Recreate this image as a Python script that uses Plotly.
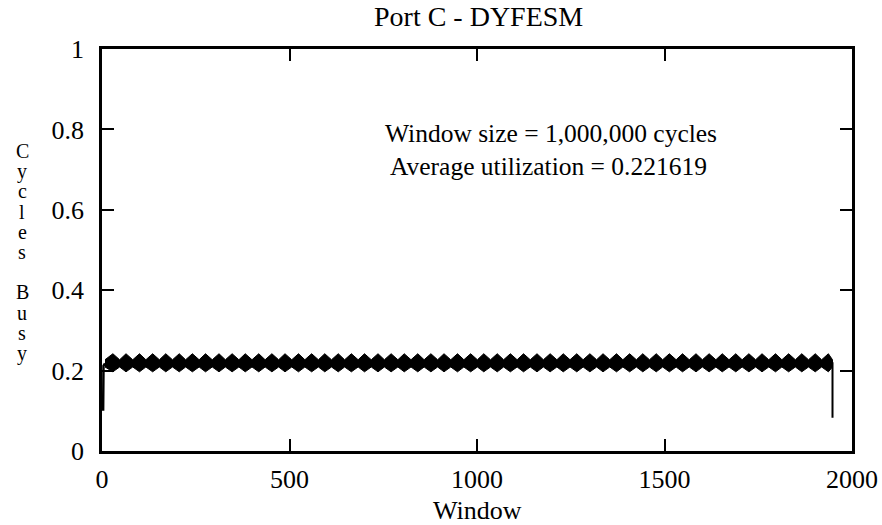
import plotly.graph_objects as go

# ---- data ----
# Envelope of the rapidly oscillating utilisation trace: alternating neck / peak windows
env_windows = [8, 29, 47, 64, 82, 100, 117, 135, 153, 170, 188, 206, 223, 241, 259, 276, 294, 312,
               329, 347, 365, 382, 400, 418, 435, 453, 471, 488, 506, 524, 541, 559, 577, 594,
               612, 630, 647, 665, 683, 700, 718, 736, 753, 771, 789, 806, 824, 842, 859, 877,
               895, 912, 930, 948, 965, 983, 1001, 1018, 1036, 1054, 1071, 1089, 1107, 1124,
               1142, 1160, 1177, 1195, 1213, 1230, 1248, 1266, 1283, 1301, 1319, 1336, 1354,
               1372, 1389, 1407, 1425, 1442, 1460, 1478, 1495, 1513, 1531, 1548, 1566, 1584,
               1601, 1619, 1637, 1654, 1672, 1690, 1707, 1725, 1743, 1760, 1778, 1796, 1813,
               1831, 1849, 1866, 1884, 1902, 1919, 1937, 1948]
# type of each envelope point: "n" = neck (narrow), "p" = peak (wide)
env_kind = ["n"] + ["p", "n"] * 54 + ["p", "n"]
neck_upper, neck_lower = 0.227, 0.209
peak_upper, peak_lower = 0.242, 0.197

start_windows = [3, 4, 8]
start_values = [0.10, 0.212, 0.218]
end_windows = [1946, 1948, 1948]
end_values = [0.218, 0.218, 0.083]

x_ticks = [0, 500, 1000, 1500, 2000]
y_ticks = [0, 0.2, 0.4, 0.6, 0.8, 1]
y_tick_text = ["0", "0.2", "0.4", "0.6", "0.8", "1"]

title_text = "Port C - DYFESM"
x_label = "Window"
y_label = "Cycles Busy"
note_lines = ["Window size = 1,000,000 cycles", "Average utilization = 0.221619"]

FONT = "'Liberation Serif', 'Times New Roman', Times, 'DejaVu Serif', serif"
FS_TICK = 26
FS_TEXT = 28

upper = [neck_upper if k == "n" else peak_upper for k in env_kind]
lower = [neck_lower if k == "n" else peak_lower for k in env_kind]
poly_x = env_windows + env_windows[::-1]
poly_y = upper + lower[::-1]

fig = go.Figure()
fig.add_trace(go.Scatter(x=poly_x, y=poly_y, mode="lines", fill="toself",
                         fillcolor="black", line=dict(color="black", width=1),
                         hoverinfo="skip", showlegend=False))
fig.add_trace(go.Scatter(x=start_windows, y=start_values, mode="lines",
                         line=dict(color="black", width=2.5), showlegend=False))
fig.add_trace(go.Scatter(x=end_windows, y=end_values, mode="lines",
                         line=dict(color="black", width=2), showlegend=False))

axis_common = dict(showline=True, linecolor="black", linewidth=2.5, mirror="ticks",
                   ticks="inside", ticklen=12, tickwidth=2, tickcolor="black",
                   showgrid=False, zeroline=False,
                   tickfont=dict(family=FONT, size=FS_TICK, color="black"))
fig.update_xaxes(range=[0, 2000], tickvals=x_ticks, ticklabelstandoff=3, **axis_common)
fig.update_yaxes(range=[0, 1], tickvals=y_ticks, ticktext=y_tick_text,
                 ticklabelstandoff=10, **axis_common)

L, R, T, B = 102, 30, 49, 74
W, H = 882, 525
pw, ph = W - L - R, H - T - B

def px_x(p):
    return (p - L) / pw

def px_y(p):
    return (H - B - p) / ph

ann = []
ann.append(dict(text=title_text, x=px_x(478), y=px_y(17), font_size=FS_TEXT))
ann.append(dict(text=x_label, x=px_x(477), y=px_y(510), font_size=26))
ann.append(dict(text=note_lines[0], x=px_x(551), y=px_y(133), font_size=25.5))
ann.append(dict(text=note_lines[1], x=px_x(548), y=px_y(166), font_size=25.5))
row = 0
for ch in y_label:
    if ch != " ":
        ann.append(dict(text=ch, x=px_x(22), y=px_y(151 + row * 20.2), font_size=20))
    row += 1
for a in ann:
    fs = a.pop("font_size")
    a.update(xref="paper", yref="paper", showarrow=False, xanchor="center",
             yanchor="middle", font=dict(family=FONT, size=fs, color="black"))

fig.update_layout(width=W, height=H, margin=dict(l=L, r=R, t=T, b=B, autoexpand=False),
                  paper_bgcolor="white", plot_bgcolor="white", annotations=ann,
                  showlegend=False)
fig.write_html("out.html")
